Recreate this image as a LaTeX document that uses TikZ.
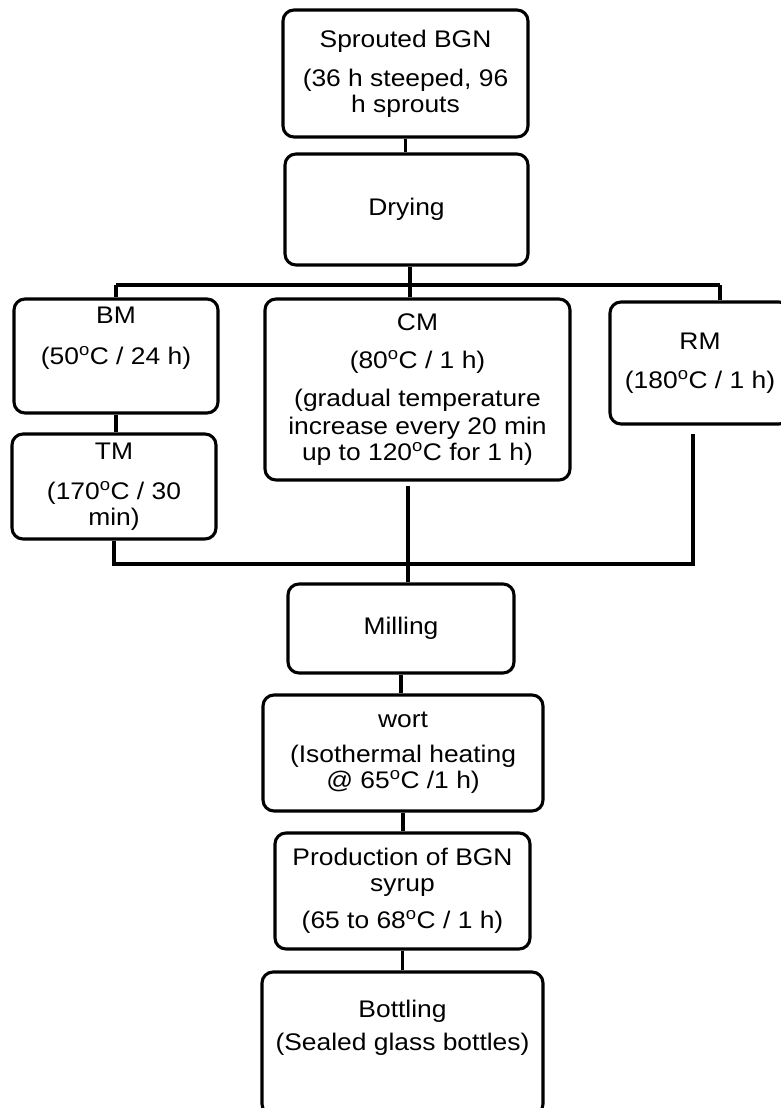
\documentclass[tikz,border=0pt]{standalone}
\usepackage{fontspec}
\setmainfont{Liberation Sans}[FakeStretch=1.1]
\newcommand{\degc}{\textsuperscript{o}C}

\begin{document}
\begin{tikzpicture}[x=1pt, y=-1pt, line width=3.1pt,
    boxtext/.style={align=center, font=\fontsize{24}{26}\selectfont},
    box/.style={draw, rounded corners=11pt, inner sep=0pt, boxtext}]
  \clip (0,0) rectangle (781,1108);
  % malting
  \node[box, minimum width=245pt, minimum height=127pt] (sprout) at (405.5,73.5)
    {Sprouted BGN\\[13pt](36 h steeped, 96\\h sprouts};
  \node[box, minimum width=243pt, minimum height=111pt] (drying) at (406.5,209.5) {Drying};
  % the four kinds of malt
  \node[box, minimum width=204pt, minimum height=114pt,
    label={[boxtext, yshift=18pt]center:BM\\[15pt](50\degc{} / 24 h)}] (bm) at (116,356) {};
  \node[box, minimum width=204pt, minimum height=105pt] (tm) at (114,486.5)
    {TM\\[14pt](170\degc{} / 30\\min)};
  \node[box, minimum width=305pt, minimum height=181pt] (cm) at (417.5,389.5)
    {CM\\[12pt](80\degc{} / 1 h)\\[12pt](gradual temperature\\[2pt]increase every 20 min\\up to 120\degc{} for 1 h)};
  \node[box, minimum width=180pt, minimum height=122pt] (rm) at (700,363)
    {RM\\[13pt](180\degc{} / 1 h)};
  % syrup
  \node[box, minimum width=226pt, minimum height=89pt] (milling) at (401,628.5) {Milling};
  \node[box, minimum width=280pt, minimum height=116pt] (wort) at (403,753)
    {wort\\[9pt](Isothermal heating\\[0pt]@ 65\degc{} /1 h)};
  \node[box, minimum width=255pt, minimum height=116pt] (syrup) at (402.5,891)
    {Production of BGN\\syrup\\[11pt](65 to 68\degc{} / 1 h)};
  \node[box, minimum width=281pt, minimum height=143pt,
    label={[boxtext, yshift=15.5pt]center:Bottling\\[7pt](Sealed glass bottles)}] (bottling) at (402.5,1043.5) {};

  \coordinate (splitL) at (116,285);
  \coordinate (splitM) at (410,285);
  \coordinate (splitR) at (720,285);
  \coordinate (joinM) at (408,564);
  \coordinate (joinR) at (693,564);

  \draw (sprout.south) -- (sprout.south |- drying.north);
  \draw[line width=4pt] (drying.south -| splitM) -- (splitM);
  \draw (splitL) -- (splitR);
  \draw (splitL) -- (bm.north);
  \draw (splitM) -- (splitM |- cm.north);
  \draw (splitR) -- (splitR |- rm.north);
  \draw (bm.south) -- (bm.south |- tm.north);
  \draw (tm.south) -- (tm.south |- joinM) -- (joinR) -- ([yshift=-8pt]rm.south -| joinR);
  \draw ([yshift=-4pt]cm.south -| joinM) -- (joinM |- milling.north);
  \draw (milling.south) -- (milling.south |- wort.north);
  \draw (wort.south) -- (wort.south |- syrup.north);
  \draw (syrup.south) -- (syrup.south |- bottling.north);
\end{tikzpicture}
\end{document}
